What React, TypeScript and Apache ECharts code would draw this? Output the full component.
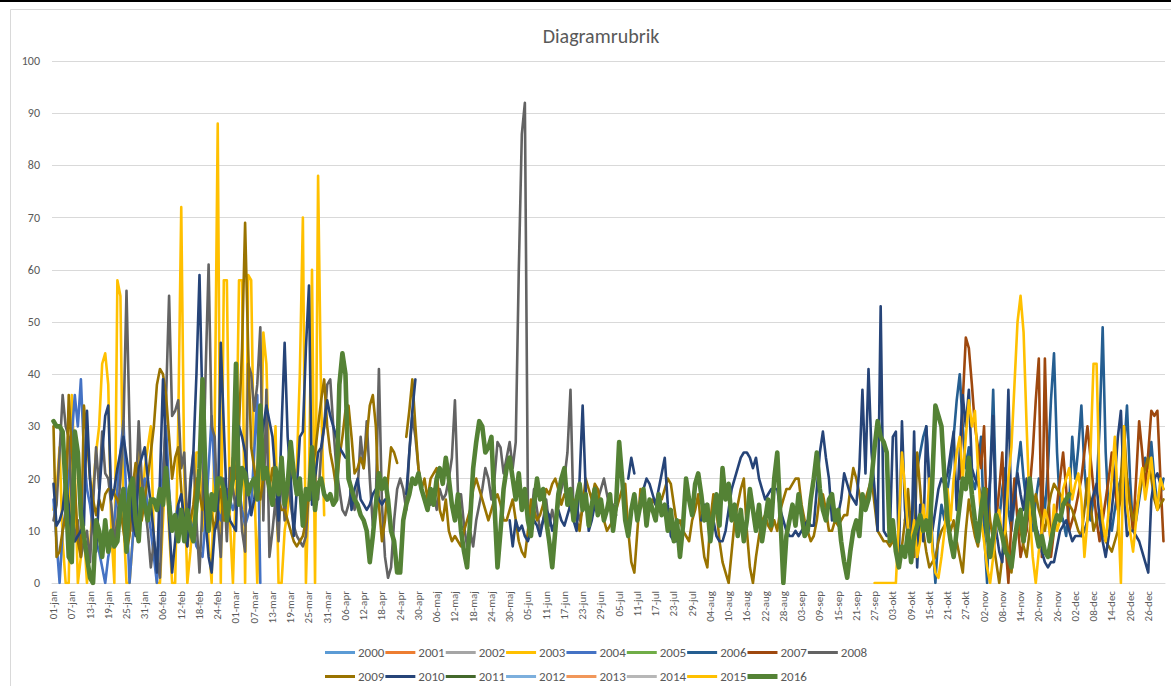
import React, { useEffect, useRef } from "react";
import * as echarts from "echarts";

// ---- categories (Swedish day-month labels, leap year) ----
const monthNames = ["jan", "feb", "mar", "apr", "maj", "jun", "jul", "aug", "sep", "okt", "nov", "dec"];
const monthDays = [31, 29, 31, 30, 31, 30, 31, 31, 30, 31, 30, 31];
const categories: string[] = [];
monthNames.forEach((m, mi) => {
  for (let d = 1; d <= monthDays[mi]; d++) categories.push((d < 10 ? "0" : "") + d + "-" + m);
});

const years = ["2000", "2001", "2002", "2003", "2004", "2005", "2006", "2007", "2008", "2009", "2010", "2011", "2012", "2013", "2014", "2015", "2016"];
const colors = ["#5B9BD5", "#ED7D31", "#A5A5A5", "#FFC000", "#4472C4", "#70AD47", "#255E91", "#9E480E", "#636363", "#997300", "#264478", "#43682B", "#7CAFDD", "#F1975A", "#B7B7B7", "#FFC000", "#548235"];

const yTicks = { min: 0, max: 100, interval: 10 };

// ---- series values (segments: start index + values) ----
const v2003Start = 0;
const v2003 = [
  14, 18, 26, 8, 0, 0, 36, 22, 0, 5,
  10, 0, 6, 18, 25, 30, 42, 44, 38, 10,
  0, 58, 55, 12, 0, 0, 8, 18, 26, 12,
  22, 26, 30, 8, 0, 0, 12, 24, 10, 0,
  0, 30, 72, 20, 0, 6, 14, 25, 25, 10,
  20, 8, 0, 30, 88, 0, 58, 58, 12, 0,
  20, 58, 58, 0, 59, 58, 20, 0, 18, 48,
  42, 20, 15, 30, 0, 0, 10, 14, 22, 20,
  22, 40, 70, 0, 20, 60, 0, 78, 35, 13,
];

const v2004Start = 0;
const v2004 = [
  16, 8, 0, 10, 14, 20, 28, 36, 30, 39,
  25, 18, 15, 10, 8, 6, 3, 0, 5, 8,
  12, 18, 25, 31, 15, 0, 8, 15, 12, 18,
  20, 14, 10, 5, 0, 12, 22, 30, 18, 10,
  12, 15, 10, 9, 8, 12, 10, 7, 6, 5,
  12, 22, 32, 20, 14, 12, 15, 18, 16, 14,
  16, 18, 14, 11, 13, 15, 25, 36, 0,
];

const v2006Start = 280;
const v2006 = [
  12, 15, 10, 18, 22, 25, 28, 30, 20, 8,
  0, 10, 15, 12, 18, 22, 28, 35, 40, 30,
  22, 26, 20, 18, 22, 28, 10, 0, 20, 37,
  15, 12, 18, 22, 14, 10, 16, 22, 27, 20,
  15, 12, 10, 16, 20, 18, 14, 22, 35, 44,
  25, 14, 12, 9, 15, 28, 20, 26, 34, 22,
  15, 12, 16, 18, 30, 49, 25, 13, 10, 14,
  18, 20, 25, 34, 20, 10, 12, 16, 20, 24,
  22, 27, 20, 15, 17, 20,
];

const v2007Start = 298;
const v2007 = [
  20, 35, 47, 45, 38, 30, 26, 22, 30, 10,
  7, 5, 12, 18, 25, 8, 0, 12, 20, 12,
  5, 8, 10, 18, 25, 35, 43, 5, 43, 20,
  5, 10, 15, 20, 25, 18, 10, 12, 14, 17,
  20, 25, 30, 24, 18, 12, 8, 12, 16, 20,
  25, 18, 14, 16, 20, 20, 15, 10, 20, 31,
  25, 18, 25, 33, 32, 33, 20, 8,
];

const v2008Start = 0;
const v2008 = [
  12, 15, 25, 36, 30, 28, 15, 8, 12, 5,
  8, 10, 4, 15, 26, 18, 29, 21, 20, 15,
  8, 12, 20, 30, 56, 30, 10, 15, 31, 20,
  15, 10, 3, 8, 5, 1, 18, 35, 55, 32,
  33, 35, 22, 25, 10, 20, 25, 12, 2, 15,
  40, 61, 30, 28, 12, 5, 20, 8, 22, 18,
  14, 20, 10, 6, 42, 40, 33, 38, 49, 12,
  37, 5, 10, 16, 8, 22, 12, 20, 15, 11,
  9, 8, 7, 9, 18, 22, 20, 16, 25, 30,
  38, 39, 30, 22, 18, 14, 13, 15, 18, 14,
  18, 28, 22, 31, 20, 11, 16, 41, 15, 5,
  1, 3, 12, 18, 20, 18, 14, 25, 32, 28,
  22, 18, 16, 17, 15, 18, 14, 18, 16, 17,
  20, 24, 35, 17, 17, 11, 7, 10, 7, 12,
  15, 18, 22, 20, 16, 20, 27, 26, 21, 24,
  27, 22, 27, 60, 86, 92, 15, 12, 18, 14,
  10, 12, 16, 11, 14, 11, 15, 18, 20, 25,
  37, 13, 15, 12, 14, 16, 12, 14, 15, 16,
  18, 20, 17, 14, 15, 13,
];

const v2009Start = 0;
const v2009 = [
  30, 5, 6, 10, 13, 36, 25, 19, 8, 5,
  34, 28, 20, 16, 13, 16, 14, 17, 18, 18,
  17, 16, 14, 10, 6, 9, 18, 23, 20, 12,
  16, 20, 25, 30, 38, 41, 40, 36, 28, 20,
  24, 26, 18, 10, 7, 12, 15, 20, 17, 14,
  18, 16, 13, 10, 15, 18, 12, 12, 18, 24,
  20, 30, 45, 69, 45, 26, 22, 18, 16, 20,
  20, 18, 22, 19, 16, 14, 14, 12, 10, 8,
  7, 8, 9, 12, 18, 22, 25, 30, 35, 39,
  30, 25, 22, 18, 24, 28, 33, 34, 28, 21,
  22, 24, 22, 28, 34, 36, 30, 15, 8, 12,
  20, 26, 25, 23, null, null, 28, 33, 39, 30,
  22, 18, 20, 16, 20, 21, 22, 14, 12, 16,
  10, 8, 9, 8, 7, 10, 12, 14, 18, 20,
  18, 16, 14, 12, 14, 16, 17, 15, 12, 12,
  14, 16, 12, 8, 6, 5, 10, 16, 14, 12,
  13, 15, 18, 17, 19, 20, 18, 15, 17, 16,
  14, 16, 12, 10, 15, 20, 18, 16, 19, 18,
  14, 12, 10, 11, 12, 14, 16, 18, 19, 10,
  4, 2, 10, 18, 15, 12, 14, 16, 15, 17,
  16, 18, 20, 19, 15, 11, 12, 10, 9, 8,
  12, 14, 17, 10, 5, 3, 12, 17, 14, 8,
  4, 2, 0, 6, 12, 15, 18, 20, 10, 3,
  0, 5, 9, 12, 13, 11, 10, 12, 10, 14,
  16, 18, 18, 19, 20, 20, 15, 12, 10, 8,
  9, 12, 17, 17, 14, 10, 10, 12, 11, 12,
  13, 13, 18, 22, 20, 17, 14, 16, 18, 20,
  15, 10, 9, 8, 8, 7, 8, 7, 7, 7,
  12, 18, 10, 5, 25, 18, 10, 6, 3, 4,
  5, 8, 10, 11, 12, 10, 12, 8, 5, 2,
  10, 16, 12, 9, 7, 12, 15, 18, 12, 8,
  4, 0, 5, 10, 6, 2, 8, 12, 10, 7,
  5, 10, 14, 17, 14, 12, 10, 14, 17, 19,
  18, 17, 16, 15, 15, 14, 12, 10, 9, 14,
  20, 15, 10, 12, 14, 10, 8, 7, 6, 8,
  10, 20, 30, 20, 15, 12, 14, 17, 20, 22,
  24, 20, 16, 14, 15, 16,
];

const v2010aStart = 0;
const v2010a = [
  19, 11, 12, 14, 20, 15, 8, 8, 9, 10,
  11, 33, 20, 12, 6, 17, 25, 32, 34, 16,
  18, 22, 25, 28, 24, 20, 12, 9, 22, 24,
  26, 20, 15, 9, 2, 20, 39, 25, 12, 2,
  8, 15, 17, 12, 7, 18, 25, 40, 59, 33,
  12, 5, 2, 10, 12, 46, 30, 15, 12, 11,
  10, 30, 28, 25, 18, 13, 16, 20, 26, 30,
  34, 31, 28, 20, 12, 30, 46, 28, 20, 9,
  18, 28, 29, 45, 57, 15, 20, 25, 26, 30,
  35, 32, 30, 28, 26, 25, 24, 24, 14, 18,
  20, 16, 15, 14, 15, 17, 18, 16, 15, 16, 16,
];
const v2010bStart = 116;
const v2010b = [17, 25, 33, 39];
const v2010cStart = 150;
const v2010c = [
  12, 7, 12, 10, 11, 9, 8, 10, 12, 11,
  9, 12, 14, 13, 10, 12, 14, 12, 11, 13,
  15, 12, 10, 20, 34, 18, 10, 12, 15, 13,
  14, 13,
];
const v2010dStart = 189;
const v2010d = [20, 24, 21];
const v2010eStart = 193;
const v2010e = [16, 18, 20, 19, 17, 15, 18, 21, 24, 15, 9, 8, 8];
const v2010fStart = 213;
const v2010f = [
  12, 15, 15, 10, 12, 9, 8, 8, 10, 14,
  18, 20, 22, 24, 25, 25, 24, 22, 24, 20,
  18, 16, 17, 18, 18, 18, 14, 12, 10, 9,
  9, 10, 9, 10, 11, 12, 11, 11, 18, 25,
  29, 24, 20, 12, 14, 13, 16, 21, 19, 17,
  16, 15, 22, 37, 21, 41, 25, 18, 10, 53,
  10, 9, 9, 28, 29, 5, 31, 14, 9, 4,
  29, 3, 15, 8, 30, 18, 10, 14, 18, 20,
  19, 21, 25, 29, 14, 25, 36, 30, 37, 22,
  20, 19, 17, 15, 12, 20, 32, 10, 6, 4,
  18, 37, 12, 16, 21, 17, 14, 20, 16, 13,
  11, 9, 6, 4, 3, 4, 4, 7, 10, 11,
  12, 10, 8, 9, 9, 9, 10, 12, 15, 17,
  19, 12, 8, 5, 9, 14, 20, 28, 33, 18,
  9, 10, 10, 9, 8, 6, 4, 2, 16, 20,
  21, 19, 18,
];

const v2015Start = 270;
const v2015 = [
  0, 0, 0, 0, 0, 0, 0, 0, 12, 25,
  18, 10, 8, 12, 5, 8, 15, 10, 20, 6,
  2, 1, 5, 10, 18, 12, 20, 25, 28, 20,
  28, 35, 30, 33, 22, 12, 8, 3, 0, 5,
  12, 14, 8, 10, 20, 26, 38, 50, 55, 48,
  30, 14, 5, 0, 6, 10, 14, 12, 8, 15,
  10, 12, 18, 20, 22, 16, 19, 21, 16, 5,
  12, 25, 42, 42, 18, 12, 8, 14, 20, 28,
  15, 0, 30, 15, 10, 6, 12, 18, 22, 16,
  20, 24, 18, 14, 20, 18,
];

const v2016Start = 0;
const v2016 = [
  31, 30, 30, 29, 18, 5, 4, 29, 25, 13,
  9, 5, 1, 0, 12, 10, 5, 12, 6, 10,
  7, 8, 15, 18, 6, 18, 20, 12, 8, 18,
  15, 12, 16, 16, 14, 18, 15, 22, 15, 10,
  13, 8, 14, 8, 14, 10, 8, 15, 22, 39,
  20, 10, 17, 14, 20, 20, 18, 12, 16, 20,
  42, 15, 22, 21, 17, 19, 20, 16, 34, 20,
  22, 18, 15, 22, 17, 24, 15, 19, 27, 21,
  17, 20, 11, 18, 16, 26, 14, 19, 20, 17,
  16, 17, 15, 16, 38, 44, 40, 20, 18, 16,
  15, 13, 12, 10, 4, 9, 15, 21, 18, 20,
  16, 10, 8, 2, 2, 12, 15, 17, 20, 19,
  21, 18, 16, 14, 18, 15, 20, 22, 19, 24,
  20, 15, 12, 17, 10, 6, 3, 12, 22, 27,
  31, 30, 25, 26, 28, 15, 3, 10, 18, 22,
  24, 20, 16, 21, 14, 18, 12, 9, 15, 20,
  16, 18, 12, 8, 3, 10, 17, 20, 22, 15,
  18, 12, 16, 19, 14, 17, 11, 15, 18, 13,
  16, 12, 14, 17, 10, 15, 27, 20, 12, 9,
  14, 17, 12, 15, 18, 11, 16, 14, 12, 17,
  13, 15, 10, 14, 8, 12, 5, 11, 20, 16,
  13, 19, 21, 17, 12, 15, 8, 13, 17, 11,
  22, 16, 19, 12, 15, 9, 14, 8, 12, 18,
  14, 10, 15, 8, 12, 16, 11, 20, 25, 13,
  0, 9, 12, 15, 11, 17, 13, 9, 10, 16,
  20, 25, 18, 14, 12, 16, 17, 12, 14, 8,
  4, 1, 6, 10, 12, 9, 17, 14, 16, 20,
  26, 31, 28, 27, 25, 8, 12, 6, 3, 7,
  5, 10, 4, 9, 11, 13, 10, 12, 8, 20,
  34, 32, 30, 20, 12, 8, 5, 10, 15, 20,
  18, 24, 17, 12, 8, 14, 18, 10, 5, 9,
  13, 11, 9, 6, 5, 3, 8, 12, 14, 8,
  14, 20, 15, 10, 7, 9, 6, 5, 8, 11,
  13, 12, 15, 16, 17,
];

// series that carry no visible values in the picture
const emptyYears = ["2000", "2001", "2002", "2005", "2011", "2012", "2013", "2014"];

type Seg = [number, (number | null)[]];
const segmentsByYear: Record<string, Seg[]> = {
  "2003": [[v2003Start, v2003]],
  "2004": [[v2004Start, v2004]],
  "2006": [[v2006Start, v2006]],
  "2007": [[v2007Start, v2007]],
  "2008": [[v2008Start, v2008]],
  "2009": [[v2009Start, v2009]],
  "2010": [
    [v2010aStart, v2010a],
    [v2010bStart, v2010b],
    [v2010cStart, v2010c],
    [v2010dStart, v2010d],
    [v2010eStart, v2010e],
    [v2010fStart, v2010f],
  ],
  "2015": [[v2015Start, v2015]],
  "2016": [[v2016Start, v2016]],
};

function buildData(year: string): (number | null)[] {
  const out: (number | null)[] = categories.map(() => null);
  if (emptyYears.includes(year)) return out;
  (segmentsByYear[year] || []).forEach(([start, vals]) => {
    vals.forEach((v, i) => {
      if (start + i < out.length) out[start + i] = v;
    });
  });
  return out;
}

const FONT = 'Carlito, "Liberation Sans", Arial, sans-serif';
const TEXT = "#595959";
const GRID = "#d9d9d9";

export default function App() {
  const ref = useRef<HTMLDivElement>(null);
  useEffect(() => {
    if (!ref.current) return;
    const chart = echarts.init(ref.current, undefined, { renderer: "svg" });
    const iconThin = "path://M0,0H30V3H0Z";
    const iconThick = "path://M0,0H30V5H0Z";
    const legendBase = {
      left: 320,
      itemWidth: 30,
      itemHeight: 5,
      itemGap: 1,
      symbolKeepAspect: true,
      selectedMode: false,
      textStyle: { color: TEXT, fontSize: 13, fontFamily: FONT, padding: [0, 0, 0, -2] },
    };
    chart.setOption({
      animation: false,
      backgroundColor: "#ffffff",
      title: {
        text: "Diagramrubrik",
        left: 596,
        top: 21,
        textAlign: "center",
        textStyle: { color: TEXT, fontSize: 20, fontWeight: "normal", fontFamily: FONT },
      },
      graphic: [
        { type: "rect", shape: { x: 0, y: 0, width: 1171, height: 2 }, style: { fill: "#000" }, z: 100 },
        {
          type: "rect",
          shape: { x: 10.5, y: 9.5, width: 1200, height: 700 },
          style: { fill: "none", stroke: GRID, lineWidth: 1 },
          z: -1,
        },
      ],
      legend: [
        {
          ...legendBase,
          top: 641,
          data: years.slice(0, 9).map((y) => ({ name: y, icon: iconThin })),
        },
        {
          ...legendBase,
          top: 665,
          data: years.slice(9).map((y) => ({ name: y, icon: y === "2016" ? iconThick : iconThin })),
        },
      ],
      grid: { left: 52, right: 6, top: 61, bottom: 103, containLabel: false },
      xAxis: {
        type: "category",
        data: categories,
        boundaryGap: true,
        axisTick: { show: false },
        axisLine: { show: true, lineStyle: { color: GRID, width: 1 } },
        axisLabel: {
          interval: 5,
          rotate: 90,
          margin: 8,
          color: TEXT,
          fontSize: 11,
          fontFamily: FONT,
        },
      },
      yAxis: {
        type: "value",
        min: yTicks.min,
        max: yTicks.max,
        interval: yTicks.interval,
        axisLine: { show: false },
        axisTick: { show: false },
        splitLine: { lineStyle: { color: GRID, width: 1 } },
        axisLabel: { color: TEXT, fontSize: 12, fontFamily: FONT, margin: 12 },
      },
      series: years.map((y, i) => ({
        name: y,
        type: "line",
        data: buildData(y),
        symbol: "none",
        showSymbol: false,
        connectNulls: false,
        color: colors[i],
        lineStyle: {
          color: colors[i],
          width: y === "2016" ? 4.6 : 2.6,
          cap: "round",
          join: "round",
        },
        emphasis: { disabled: true },
      })),
    });
    return () => chart.dispose();
  }, []);
  return (
    <div
      ref={ref}
      style={{ position: "absolute", left: 0, top: 0, width: 1171, height: 686 }}
    />
  );
}
